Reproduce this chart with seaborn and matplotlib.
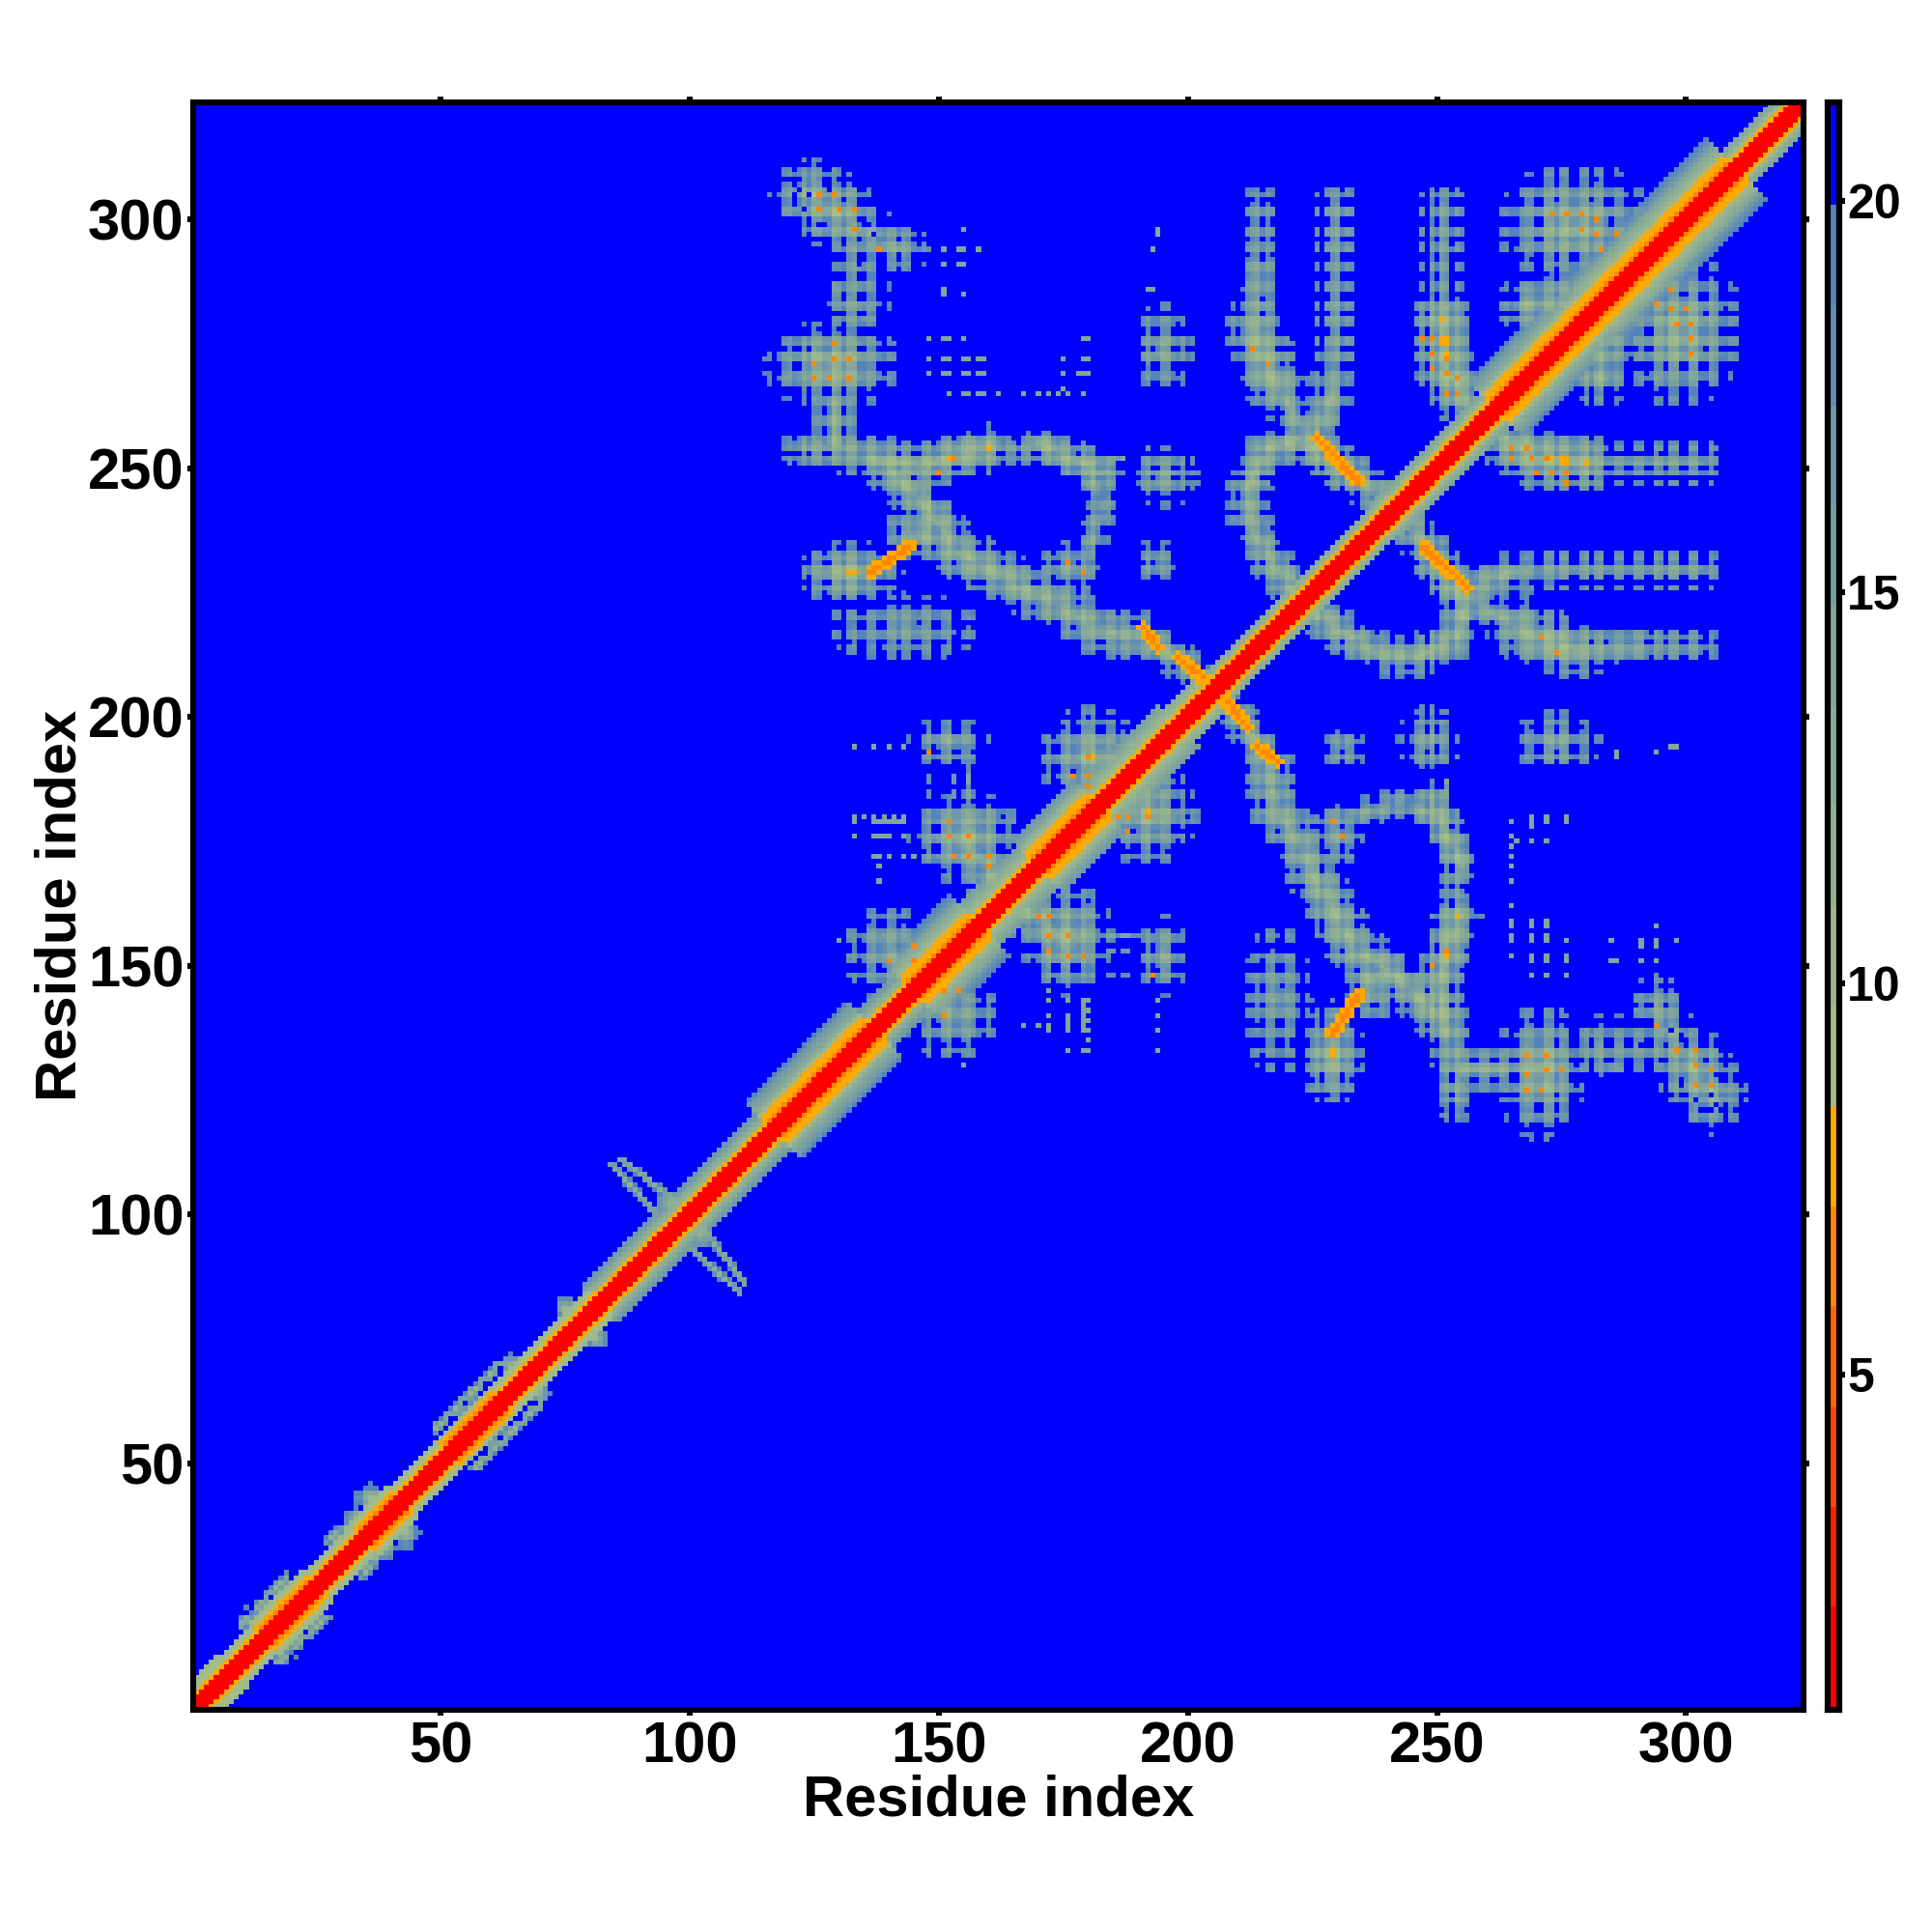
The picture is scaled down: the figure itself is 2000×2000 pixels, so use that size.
import numpy as np
import seaborn as sns
import matplotlib
matplotlib.use("Agg")
import matplotlib.pyplot as plt
from matplotlib.colors import BoundaryNorm, ListedColormap

N_RES = 323
TICKS = [50, 100, 150, 200, 250, 300]
CBAR_TICKS = [5, 10, 15, 20]
LEVEL_STEP = 1.28
LEVEL_MIN = 0.75
LEVEL_COLORS = ['#FF0000', '#FF2000', '#FF4800', '#FF6600', '#FF8800', '#FFAA00',
                '#A5BE88', '#9DB88E', '#94B292', '#8BAC97', '#82A69C', '#799FA3',
                '#6F97AB', '#628DB3', '#5583BB', '#0000FF']

# diagonal band read along the sequence: start, end, orange reach, green reach, distance at green edge
DIAG_START = [1, 8, 15, 25, 35, 42, 52, 62, 70, 82, 97, 117, 137, 145, 158, 170, 182, 198, 205, 240, 262, 282, 310]
DIAG_END = [8, 15, 25, 35, 42, 52, 62, 70, 82, 97, 117, 137, 145, 158, 170, 182, 198, 205, 240, 262, 282, 310, 323]
DIAG_ORANGE = [3, 3, 4, 3, 4, 3, 4, 3, 3, 3, 3, 5, 3, 5, 3, 5, 3, 3, 3, 3, 5, 5, 3]
DIAG_GREEN = [6, 5, 6, 5, 6, 5, 5, 5, 5, 7, 7, 11, 7, 12, 8, 10, 8, 6, 5, 6, 11, 12, 6]
DIAG_EDGE = [10, 10, 10, 10, 10, 10, 10, 10, 10, 17, 17, 19, 17, 19, 15, 17, 15, 13, 13, 14, 19, 19, 14]

# contact arms: residue pairs along the arm, half width, closest distance
ARM_PATHS = [
    [(124, 305), (130, 301)],
    [(130, 301), (137, 296), (142, 294)],
    [(134, 293), (134, 282)],
    [(130, 285), (135, 281)],
    [(129, 263), (129, 255)],
    [(123, 254), (137, 253)],
    [(137, 252), (146, 250), (152, 252), (160, 254)],
    [(160, 254), (169, 253)],
    [(170, 255), (176, 252), (183, 249)],
    [(181, 248), (183, 243), (181, 235)],
    [(182, 252), (187, 252)],
    [(139, 251), (146.7, 243), (152, 236)],
    [(152, 234), (160, 230), (168, 225), (175, 222), (181, 218), (190, 216)],
    [(190, 217), (196, 213), (205, 206)],
    [(214.5, 303), (214.5, 291)],
    [(214.5, 291), (213.5, 278)],
    [(213.5, 278), (216, 270), (218, 266)],
    [(218, 266), (224, 256)],
    [(230, 303), (230, 275), (229, 265)],
    [(229, 265), (227.8, 262), (226, 257)],
    [(224, 256), (216, 254), (212, 246), (212.5, 239), (217, 231), (222, 224)],
    [(222, 256), (234, 248), (240, 243)],
    [(251, 303), (251, 280)],
    [(251, 280), (252, 270), (255, 265)],
    [(255, 265), (260, 259)],
    [(268, 283), (280, 285)],
    [(155, 175), (162, 167)],
    [(148.6, 190), (148.6, 182.5)],
    [(153, 190), (153, 182.5)],
    [(156.2, 190), (156.2, 182.5)],
    [(10, 17.5), (19, 27)],
    [(27, 34), (32, 38)],
    [(49, 57), (62, 70)],
    [(86.3, 111), (97.3, 102.7)],
    [(84.4, 110), (94, 99.4)],
]
ARM_WIDTH = [8, 6, 6, 4, 5, 4.5, 5, 2.5, 4, 3, 0.7, 5, 5.5, 4, 4, 5, 6.5, 4, 4.5, 4, 4.5, 4.5, 4.5, 6.5, 4, 6, 6,
             0.7, 0.7, 0.7, 1.2, 1.2, 1.2, 0.8, 0.8]
ARM_CORE = [10.5, 12.5, 14, 14, 11.5, 13, 10, 14, 10.5, 12, 15, 9.5, 10.5, 10, 15, 12.5, 9.5, 10.5, 15, 10.5, 10.5,
            10.5, 15, 9.5, 10.5, 11.5, 10, 14, 14, 14, 11, 11, 11, 12, 12]

# orange stretches along the arms
HOT_PATHS = [
    [(136.3, 229), (144.7, 234.6)],
    [(226, 256), (234, 247.5)],
    [(191, 218), (194, 214)],
    [(198, 212), (204, 207)],
]

# rounded contact patches: centre residues, radii, closest distance
BLOB_X = [128.7, 132, 143, 176.5, 194, 195.2, 195.2, 277.7, 181, 152, 155.5, 139.6, 146.7, 36, 34, 15, 56, 64, 75,
          96.5, 220.2, 195]
BLOB_Y = [270.6, 229, 218, 230.4, 231.5, 248.4, 274, 299, 192.3, 195, 175.6, 152.7, 237, 43, 39, 19, 60, 69, 81,
          102.3, 255.4, 197]
BLOB_RX = [14, 11, 17, 7.5, 5, 7, 6.5, 16, 12, 8.5, 12, 8.5, 9.5, 3.5, 3.5, 5, 3.5, 3, 2.5, 3.5, 2, 3.5]
BLOB_RY = [9.5, 6.5, 7, 5.5, 4.5, 6.5, 9.5, 13, 10, 5.5, 9.5, 10.5, 5.5, 3, 3, 4, 3.5, 3, 2.5, 2.5, 2.5, 3.5]
BLOB_CORE = [9, 9.5, 12.5, 13, 13, 12, 12.5, 10, 9.5, 11.5, 9, 11.5, 9, 10, 10, 10, 10, 10, 10, 10, 6.5, 6]

# residues facing away from each other and residues facing in, read from the gaps and hot spots in the patches
FACE_OUT = [5, 9, 12, 16, 20, 23, 27, 30, 34, 38, 41, 45, 48, 52, 55, 59, 62, 66, 69, 73, 77, 80,
            117, 118, 121, 122, 124, 127, 128, 131, 134, 135, 138, 139, 142, 145, 146, 149, 150, 153, 154, 158, 159,
            162, 163, 166, 169, 170, 173, 174, 177, 178, 182, 183, 186, 189, 190, 193, 194, 197, 198, 200, 203, 206,
            207, 210, 211, 215, 218, 219, 222, 223, 227, 231, 234, 237, 238, 241, 244, 245, 248, 250, 253, 257, 258,
            261, 262, 265, 266, 270, 271, 274, 277, 278, 281, 284, 285, 288, 289, 292, 293, 296, 299, 300, 303, 304,
            307, 308, 311]
FACE_IN = [125, 129, 132, 133, 148, 152, 156, 160, 172, 176, 179, 181, 192, 226, 229, 230, 247, 249, 251, 252, 254,
           268, 272, 273, 275, 276, 280, 283, 294, 297, 298, 301, 302, 305]
OUT_SHIFT = 3.0
IN_SHIFT = -1.0

# single cells
SPOT_X = [126, 129, 126, 129.5, 133, 133, 138, 129, 129, 132, 125, 128.5, 132, 125, 273, 276, 279.4, 282.5, 279.4,
          282.5, 283, 286.3, 249.4, 247.4, 249.4, 251.5, 249.4, 251.5, 253.6, 251.5, 253.6, 180, 177, 180, 180,
          152, 152.4, 156.2, 153, 156.2, 160, 160, 148.2, 140, 145, 145, 153, 150, 176, 179, 213, 216]
SPOT_Y = [305, 305, 302, 302, 302, 298, 294, 275, 272, 272, 271, 268.5, 268.5, 267.5, 301, 301, 301, 300, 298, 297,
          294, 296.7, 276.4, 276.4, 272.9, 272.2, 269.5, 269, 268.4, 265.3, 265.3, 192, 188, 188, 186, 179.4, 176,
          176, 172, 172, 172, 170, 193, 151, 150.6, 154, 252, 249, 231, 229, 274, 271]
SPOT_VALUE = [7] * len(SPOT_X)
DOT_X = [155, 151, 154, 155, 158, 151, 154, 155, 151, 151, 155, 194, 194, 193, 193, 192, 193,
         148, 151, 152, 155, 148, 151, 152, 155, 156, 158, 159, 148, 151, 152, 155, 156, 158, 159,
         152, 155, 156, 158, 159, 162, 167, 170, 172, 174, 175, 176, 179, 175, 179, 180, 175, 178, 179, 180, 179, 180,
         133, 137, 140, 143, 133, 137, 138, 139, 140, 141, 142, 143, 133, 137, 138, 139, 140, 143, 137, 138, 140, 143,
         145, 138, 138, 130, 133, 135, 137, 139, 141, 143]
DOT_Y = [298, 294, 294, 294, 294, 291, 291, 291, 286, 285, 285, 298, 297, 294, 294, 286, 286,
         276, 276, 276, 276, 272, 272, 272, 272, 272, 272, 272, 269, 269, 269, 269, 269, 269, 269,
         265, 265, 265, 265, 265, 265, 265, 265, 265, 265, 266, 265, 265, 272, 272, 272, 269, 269, 269, 269, 276, 276,
         194, 194, 194, 194, 179, 179, 179, 179, 179, 179, 179, 179, 176, 176, 176, 176, 176, 176, 172, 172, 172, 172,
         172, 170, 167, 155, 180, 180, 180, 180, 180, 180]
# gaps
GAP_X = [120, 122, 124, 130, 123, 128, 121, 126, 136, 137, 135, 142, 134, 218, 223, 225, 236, 238, 243, 261, 264,
         256, 258, 216, 217, 244, 248]
GAP_Y = [308, 306, 305, 302, 302, 306, 305, 299, 299, 297, 293, 293, 291, 258, 244, 243, 240, 232, 235, 252, 256,
         255, 258, 248, 247, 222, 220]


def path_distance(ii, jj, path):
    best = np.full(ii.shape, np.inf)
    for (x0, y0), (x1, y1) in zip(path[:-1], path[1:]):
        dx, dy = x1 - x0, y1 - y0
        t = ((ii - x0) * dx + (jj - y0) * dy) / (dx * dx + dy * dy)
        t = np.clip(t, 0, 1)
        best = np.minimum(best, np.hypot(ii - x0 - t * dx, jj - y0 - t * dy))
    return best


def build_matrix():
    res = np.arange(1, N_RES + 1)
    ii, jj = np.meshgrid(res, res)  # ii is the x residue, jj the y residue
    dist = np.full(ii.shape, 99.0)

    for path, width, core in zip(ARM_PATHS, ARM_WIDTH, ARM_CORE):
        d = path_distance(ii, jj, path) / width
        dist = np.where(d <= 1, np.minimum(dist, core + (19.5 - core) * d), dist)
    for cx, cy, rx, ry, core in zip(BLOB_X, BLOB_Y, BLOB_RX, BLOB_RY, BLOB_CORE):
        d = np.hypot((ii - cx) / rx, (jj - cy) / ry)
        dist = np.where(d <= 1, np.minimum(dist, core + (19.5 - core) * d), dist)

    # side chain orientation of both residues shifts the distance, far pairs fall out
    shift = np.zeros(N_RES)
    shift[np.isin(res, FACE_OUT)] = OUT_SHIFT
    shift[np.isin(res, FACE_IN)] = IN_SHIFT
    dist = dist + shift[ii - 1] + shift[jj - 1]
    dist[dist > 19.9] = 21
    for x, y in zip(GAP_X, GAP_Y):
        dist[y - 1, x - 1] = 21

    for path in HOT_PATHS:
        d = path_distance(ii, jj, path)
        dist = np.where(d <= 1.3, np.minimum(dist, 7.6), dist)
        dist = np.where(d <= 0.5, np.minimum(dist, 6.4), dist)
    for x, y, v in zip(SPOT_X, SPOT_Y, SPOT_VALUE):
        dist[int(round(y)) - 1, int(round(x)) - 1] = v
    for x, y in zip(DOT_X, DOT_Y):
        dist[y - 1, x - 1] = np.minimum(dist[y - 1, x - 1], 14)

    dist = np.minimum(dist, dist.T)

    # the diagonal band goes over everything
    sep = np.abs(ii - jj)
    mid = (ii + jj) / 2
    for a, b, orange, green, edge in zip(DIAG_START, DIAG_END, DIAG_ORANGE, DIAG_GREEN, DIAG_EDGE):
        seg = (mid >= a) & (mid <= b)
        band = 9 + (edge - 9) * (sep - orange) / (green - orange)
        dist = np.where(seg & (sep <= green) & (sep > orange), np.minimum(dist, band), dist)
        dist = np.where(seg & (sep <= orange) & (sep >= 4), 7.6, dist)
        dist = np.where(seg & (sep == 3), 7.6 if orange == 3 else 6.5, dist)
    dist = np.where(sep <= 2, 1.5, dist)
    return dist


matrix = build_matrix()
levels = LEVEL_MIN + LEVEL_STEP * np.arange(len(LEVEL_COLORS) + 1)
cmap = ListedColormap(LEVEL_COLORS)
norm = BoundaryNorm(levels, cmap.N)

sns.set_theme(style="white")
plt.rcParams['font.family'] = ['Liberation Sans', 'DejaVu Sans']
plt.rcParams['font.weight'] = 'bold'

fig = plt.figure(figsize=(10, 10), dpi=200)
ax = fig.add_axes([200.4 / 2000, 1 - 1770 / 2000, (1867 - 200.4) / 2000, (1770 - 105.6) / 2000])
cax = fig.add_axes([1891.6 / 2000, 1 - 1770 / 2000, (1904 - 1891.6) / 2000, (1770 - 105.6) / 2000])

sns.heatmap(matrix, ax=ax, cbar_ax=cax, cmap=cmap, norm=norm, square=False, linewidths=0,
            xticklabels=False, yticklabels=False, cbar_kws={'ticks': CBAR_TICKS, 'spacing': 'proportional'})

ax.set_xlim(-0.08, 323.08)
ax.set_ylim(-0.08, 323.08)
ax.set_xticks([t - 0.5 for t in TICKS])
ax.set_yticks([t - 0.5 for t in TICKS])
ax.set_xticklabels(TICKS)
ax.set_yticklabels(TICKS, rotation=0)
ax.tick_params(axis='both', which='major', length=2.2, width=2.2, color='black', labelcolor='black', labelsize=21.5,
               pad=2, bottom=True, left=True, top=True, right=True, labeltop=False, labelright=False)
ax.tick_params(axis='y', pad=1.3)
ax.set_xlabel("Residue index", fontsize=21.5, fontweight='bold', color='black', labelpad=0)
ax.set_ylabel("Residue index", fontsize=21.5, fontweight='bold', color='black', labelpad=0)
for spine in ax.spines.values():
    spine.set_visible(True)
    spine.set_linewidth(2.2)
    spine.set_color('black')

cax.set_ylim(0.71, 21.27)
cax.minorticks_off()
cax.tick_params(axis='y', which='major', length=2, width=2.2, color='black', labelcolor='black', labelsize=18, pad=1,
                right=True)
for spine in cax.spines.values():
    spine.set_visible(True)
    spine.set_linewidth(2.2)
    spine.set_color('black')

fig.savefig("out.png", dpi=200, facecolor='white')
plt.close(fig)
